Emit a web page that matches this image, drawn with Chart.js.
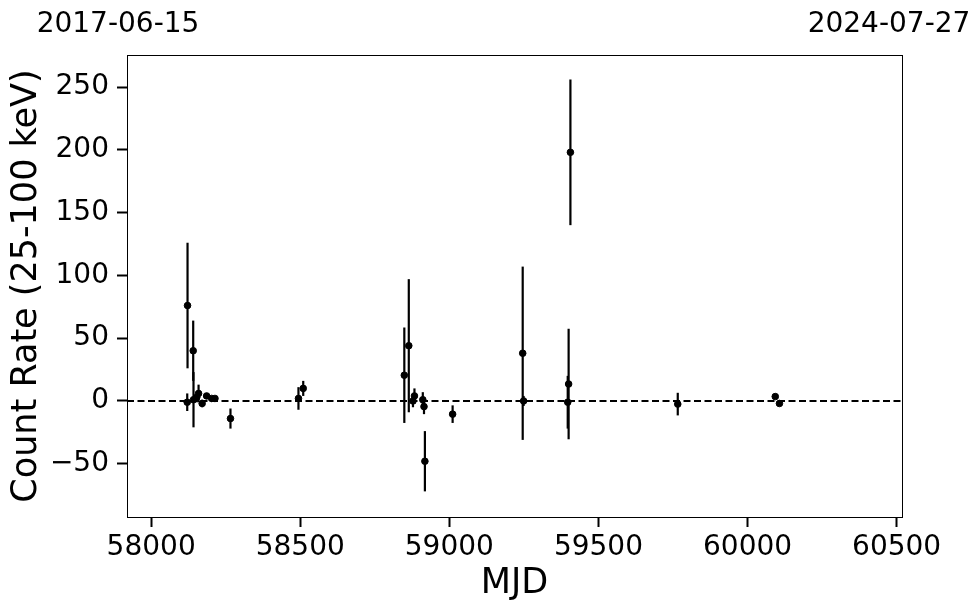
<!DOCTYPE html>
<html>
<head>
<meta charset="utf-8">
<script src="https://cdn.jsdelivr.net/npm/chart.js@4/dist/chart.umd.min.js"></script>
<style>
html,body{margin:0;padding:0;background:#fff;}
#wrap{width:980px;height:613px;}
</style>
</head>
<body>
<div id="wrap"><canvas id="c" width="980" height="613"></canvas></div>
<script>
// ---- data ----
const mjd  = [58121, 58122, 58141, 58142, 58153, 58159, 58171, 58186, 58203, 58214, 58266, 58494, 58510, 58849, 58864, 58878, 58883, 58911, 58915, 58918, 59011, 59246, 59249, 59397, 59400, 59406, 59766, 60093, 60107];
const rate = [-1, 76, 40, 1, 3, 6, -2, 4, 2, 2, -14, 2, 10, 20.5, 44, 0, 4, 1, -4.5, -48, -10.5, 38, 0, -1, 13.5, 198, -2.5, 3.5, -2];
const rateErr = [7, 50, 24, 22, 4, 7, 3, 2, 2, 2, 8, 9, 6, 38, 53, 5, 6, 6, 6, 24, 7, 69, 4, 21, 44, 58, 9, 2, 2];
const xTicks = [58000, 58500, 59000, 59500, 60000, 60500];
const yTicks = [-50, 0, 50, 100, 150, 200, 250];
const xRange = [57919, 60518];
const yRange = [-92.4, 275.5];
const dateLabels = ['2017-06-15', '2024-07-27'];
const zeroLevel = 0;

const FONT = "'DejaVu Sans', sans-serif";

const errorBars = {
  id: 'errorBars',
  beforeDatasetsDraw(chart) {
    const {ctx, scales:{x, y}} = chart;
    ctx.save();
    ctx.strokeStyle = '#000';
    ctx.lineWidth = 2.2;
    ctx.lineCap = 'butt';
    for (let i = 0; i < mjd.length; i++) {
      const px = x.getPixelForValue(mjd[i]);
      ctx.beginPath();
      ctx.moveTo(px, y.getPixelForValue(rate[i] + rateErr[i]));
      ctx.lineTo(px, y.getPixelForValue(rate[i] - rateErr[i]));
      ctx.stroke();
    }
    ctx.restore();
  }
};

const frame = {
  id: 'frame',
  afterDraw(chart) {
    const {ctx, chartArea:a} = chart;
    ctx.save();
    ctx.strokeStyle = '#000';
    ctx.lineWidth = 1;
    ctx.strokeRect(Math.round(a.left) + 0.5, Math.round(a.top) + 0.5, Math.round(a.right - a.left), Math.round(a.bottom - a.top));
    ctx.fillStyle = '#000';
    ctx.font = '28px ' + FONT;
    ctx.textAlign = 'center';
    ctx.textBaseline = 'alphabetic';
    ctx.fillText(dateLabels[0], a.left - 9, 32);
    ctx.fillText(dateLabels[1], a.right - 13, 32);
    ctx.restore();
  }
};

new Chart(document.getElementById('c'), {
  type: 'scatter',
  data: {
    datasets: [
      {
        data: mjd.map((m, i) => ({x: m, y: rate[i]})),
        backgroundColor: '#000',
        borderColor: '#000',
        pointRadius: 3.3,
        pointHoverRadius: 3.3,
        order: 1
      },
      {
        type: 'line',
        data: [{x: xRange[0], y: zeroLevel}, {x: xRange[1], y: zeroLevel}],
        borderColor: '#000',
        borderWidth: 2,
        borderDash: [7, 3.5],
        pointRadius: 0,
        fill: false,
        order: 2
      }
    ]
  },
  plugins: [errorBars, frame],
  options: {
    responsive: false,
    animation: false,
    events: [],
    layout: {padding: {left: 0, right: 78, top: 55, bottom: 0}},
    plugins: {legend: {display: false}, tooltip: {enabled: false}},
    scales: {
      x: {
        type: 'linear',
        min: xRange[0], max: xRange[1],
        afterBuildTicks(s) { s.ticks = xTicks.map(v => ({value: v})); },
        afterFit(s) { s.height = 96; },
        border: {display: true, color: '#000', width: 1},
        grid: {drawOnChartArea: false, drawTicks: true, tickLength: 10, tickWidth: 2, tickColor: '#000'},
        ticks: {color: '#000', font: {family: FONT, size: 28}, padding: 4, maxRotation: 0, autoSkip: false,
                callback: v => String(v)},
        title: {display: true, text: 'MJD', color: '#000', font: {family: FONT, size: 35}, padding: {top: 0, bottom: 8}}
      },
      y: {
        type: 'linear',
        min: yRange[0], max: yRange[1],
        afterBuildTicks(s) { s.ticks = yTicks.map(v => ({value: v})); },
        afterFit(s) { s.width = 127; },
        border: {display: true, color: '#000', width: 1},
        grid: {drawOnChartArea: false, drawTicks: true, tickLength: 10, tickWidth: 2, tickColor: '#000'},
        ticks: {color: '#000', font: {family: FONT, size: 28}, padding: 8, autoSkip: false,
                callback: v => (v < 0 ? '\u2212' + Math.abs(v) : String(v))},
        title: {display: true, text: 'Count Rate (25-100 keV)', color: '#000', font: {family: FONT, size: 35}, padding: {top: 6, bottom: 0}}
      }
    }
  }
});
</script>
</body>
</html>
